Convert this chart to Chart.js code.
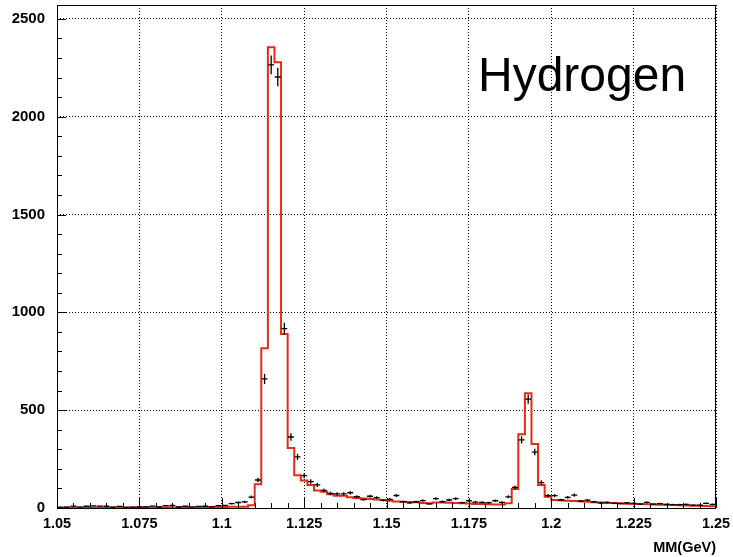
<!DOCTYPE html>
<html>
<head>
<meta charset="utf-8">
<script src="https://cdn.jsdelivr.net/npm/chart.js@4.4.0/dist/chart.umd.min.js"></script>
<style>
  html, body { margin: 0; padding: 0; background: #fff; }
  canvas { display: block; }
</style>
</head>
<body>
<canvas id="myChart" width="733" height="557"></canvas>
<script>
// Binning of the missing mass histogram (100 bins, 1.05 - 1.25 GeV)
const binStart = 1.05;
const binWidth = 0.002;

// Red histogram (simulation), counts per bin
const histCounts = [
    2, 2, 3, 2, 3, 3, 3, 3, 3, 3,
    3, 3, 3, 4, 3, 4, 4, 4, 4, 4,
    4, 4, 5, 5, 5, 5, 6, 6, 7, 14,
    121, 816, 2355, 2278, 890, 307, 167, 140, 118, 89,
    83, 70, 63, 63, 55, 51, 49, 46, 43, 41,
    37, 33, 32, 31, 30, 26, 24, 28, 28, 27,
    26, 24, 23, 21, 20, 19, 18, 18, 24, 97,
    377, 586, 327, 118, 58, 41, 40, 37, 36, 34,
    32, 30, 28, 26, 25, 24, 22, 21, 20, 19,
    18, 17, 16, 15, 14, 13, 12, 11, 10, 9
];

// Black points (data), counts per bin
const dataCounts = [
    3, 4, 10, 4, 9, 11, 10, 9, 4, 8,
    3, 4, 5, 6, 10, 5, 12, 13, 5, 9,
    4, 8, 9, 6, 12, 13, 22, 28, 31, 56,
    143, 660, 2265, 2203, 917, 363, 261, 165, 135, 118,
    90, 74, 72, 72, 78, 58, 43, 60, 53, 39,
    44, 64, 32, 26, 32, 38, 21, 48, 33, 41,
    48, 27, 37, 30, 29, 27, 37, 29, 57, 105,
    348, 556, 286, 130, 63, 63, 41, 54, 66, 35,
    40, 31, 26, 29, 24, 22, 26, 24, 20, 29,
    20, 22, 18, 17, 17, 19, 15, 14, 24, 19
];

const xTickValues = [1.05, 1.075, 1.1, 1.125, 1.15, 1.175, 1.2, 1.225, 1.25];
const yTickValues = [0, 500, 1000, 1500, 2000, 2500];
const xMin = 1.05, xMax = 1.25, yMax = 2571;
const xMinorStep = 0.005, yMinorStep = 100;
const targetLabel = "Hydrogen";
const xTitle = "MM(GeV)";

const RED = 'rgb(226, 44, 22)';

// Step histogram: one point on each bin's low edge, plus the last high edge
const histPoints = histCounts.map((v, i) => ({ x: binStart + i * binWidth, y: v }));
histPoints.push({ x: binStart + histCounts.length * binWidth, y: histCounts[histCounts.length - 1] });

// Data points at bin centres
const dataPoints = dataCounts.map((v, i) => ({ x: binStart + (i + 0.5) * binWidth, y: v }));


// Error bars (sqrt(N) vertically, bin width horizontally)
const errorBars = {
    id: 'errorBars',
    afterDatasetsDraw(chart) {
        const { ctx, scales: { x, y }, chartArea } = chart;
        ctx.save();
        ctx.beginPath();
        ctx.rect(chartArea.left, chartArea.top, chartArea.right - chartArea.left, chartArea.bottom - chartArea.top);
        ctx.clip();
        ctx.strokeStyle = '#000';
        ctx.lineWidth = 1.3;
        chart.data.datasets[1].data.forEach(p => {
            const err = Math.sqrt(p.y);
            const px = x.getPixelForValue(p.x);
            const py = y.getPixelForValue(p.y);
            ctx.beginPath();
            ctx.moveTo(x.getPixelForValue(p.x - binWidth * 0.45), py);
            ctx.lineTo(x.getPixelForValue(p.x + binWidth * 0.45), py);
            ctx.moveTo(px, y.getPixelForValue(p.y - err));
            ctx.lineTo(px, y.getPixelForValue(p.y + err));
            ctx.stroke();
        });
        ctx.restore();
    }
};

// ROOT style frame with inward ticks, and the target label
const rootFrame = {
    id: 'rootFrame',
    afterDraw(chart) {
        const { ctx, scales: { x, y }, chartArea: a } = chart;
        ctx.save();
        ctx.strokeStyle = '#000';
        ctx.lineWidth = 1;
        ctx.strokeRect(a.left + 0.5, a.top + 0.5, a.right - a.left - 1, a.bottom - a.top);

        ctx.beginPath();
        for (let v = 0; v <= yMax; v += yMinorStep) {
            const py = Math.round(y.getPixelForValue(v)) + 0.5;
            const len = yTickValues.includes(v) ? 9 : 5;
            ctx.moveTo(a.left, py);
            ctx.lineTo(a.left + len, py);
        }
        for (let k = 0; k <= Math.round((xMax - xMin) / xMinorStep); k++) {
            const v = xMin + k * xMinorStep;
            const px = Math.round(x.getPixelForValue(v)) + 0.5;
            const len = k % 5 === 0 ? 10 : 5;
            ctx.moveTo(px, a.bottom);
            ctx.lineTo(px, a.bottom - len);
        }
        ctx.stroke();

        ctx.fillStyle = '#000';
        ctx.font = '48px "Liberation Sans", Arial, sans-serif';
        ctx.textAlign = 'left';
        ctx.textBaseline = 'alphabetic';
        ctx.fillText(targetLabel, 478, 91);
        ctx.restore();
    }
};


new Chart("myChart", {
    type: "line",
    data: {
        datasets: [{
            label: "Simulation",
            data: histPoints,
            borderColor: RED,
            backgroundColor: RED,
            borderWidth: 2,
            stepped: 'before',
            pointRadius: 0,
            fill: false,
            tension: 0,
        },
        {
            label: "Data",
            data: dataPoints,
            showLine: false,
            pointRadius: 0,
            borderColor: '#000',
        }],
    },
    options: {
        responsive: false,
        animation: false,
        devicePixelRatio: 1,
        layout: { padding: { top: 5, right: 17, left: 0, bottom: 0 } },
        plugins: {
            legend: { display: false },
            tooltip: { enabled: false },
        },
        scales: {
            x: {
                type: 'linear',
                min: xMin,
                max: xMax,
                afterBuildTicks: (scale) => { scale.ticks = xTickValues.map(v => ({ value: v })); },
                afterFit: (scale) => {
                    scale.height = 49;
                    scale.paddingLeft = 0;
                    scale.paddingRight = 0;
                },
                grid: { color: '#000', lineWidth: 1, drawTicks: false },
                border: { display: false, dash: [1, 2] },
                ticks: {
                    color: '#000',
                    padding: 7,
                    maxRotation: 0,
                    autoSkip: false,
                    font: { family: '"Liberation Sans", Arial, sans-serif', size: 14.5, weight: 'bold' },
                    callback: (value) => String(+value.toFixed(3)),
                },
                title: {
                    display: true,
                    text: xTitle,
                    align: 'end',
                    color: '#000',
                    padding: { top: 0, bottom: 0 },
                    font: { family: '"Liberation Sans", Arial, sans-serif', size: 14.5, weight: 'bold' },
                },
            },
            y: {
                type: 'linear',
                min: 0,
                max: yMax,
                afterBuildTicks: (scale) => { scale.ticks = yTickValues.map(v => ({ value: v })); },
                afterFit: (scale) => {
                    scale.width = 57;
                    scale.paddingTop = 0;
                    scale.paddingBottom = 0;
                },
                grid: { color: '#000', lineWidth: 1, drawTicks: false },
                border: { display: false, dash: [1, 2] },
                ticks: {
                    color: '#000',
                    padding: 12,
                    font: { family: '"Liberation Sans", Arial, sans-serif', size: 15, weight: 'bold' },
                    callback: (value) => String(value),
                },
            },
        },
    },
    plugins: [errorBars, rootFrame],
});
</script>
</body>
</html>
